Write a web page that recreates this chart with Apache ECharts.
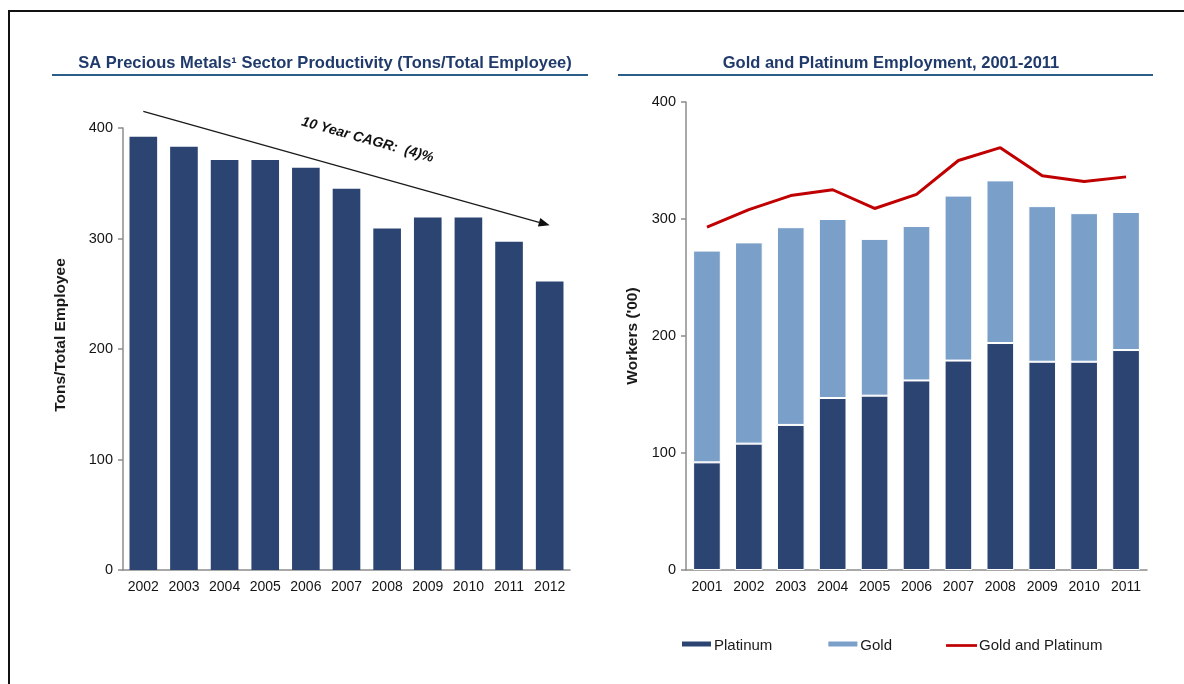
<!DOCTYPE html>
<html>
<head>
<meta charset="utf-8">
<script src="https://cdn.jsdelivr.net/npm/echarts@6/dist/echarts.min.js"></script>
<style>
  html, body { margin: 0; padding: 0; background: #fff; }
  #chart { width: 1184px; height: 684px; }
</style>
</head>
<body>
<div id="chart"></div>
<script>
// Productivity panel (tons per total employee)
const productivityYears = ['2002', '2003', '2004', '2005', '2006', '2007', '2008', '2009', '2010', '2011', '2012'];
const productivity = [392, 383, 371, 371, 364, 345, 309, 319, 319, 297, 261];

// Employment panel (workers, hundreds)
const employmentYears = ['2001', '2002', '2003', '2004', '2005', '2006', '2007', '2008', '2009', '2010', '2011'];
const platinum = [92, 108, 124, 147, 149, 162, 179, 194, 178, 178, 188];
const gold = [181, 172, 169, 153, 134, 132, 141, 139, 133, 127, 118];
const goldAndPlatinum = [293, 308, 320, 325, 309, 321, 350, 361, 337, 332, 336];

// Trend arrow endpoints, in productivity-axis units
const trendStart = ['2002', 415];
const trendEnd = ['2012', 312];
const trendLabel = '10 Year CAGR:  (4)%';

const FONT = '"Liberation Sans", Arial, sans-serif';
const NAVY = '#2b4472';
const LIGHT = '#7a9fc8';
const RED = '#c00000';
const TITLE_COLOR = '#1f3a6b';
const RULE_COLOR = '#2c5d88';

const axisLine = { show: true, lineStyle: { color: '#8c8c8c', width: 1.5 } };
const yTick = { show: true, length: 5, lineStyle: { color: '#8c8c8c', width: 1.5 } };
const yLabel = { fontFamily: FONT, fontSize: 14.5, color: '#141414', margin: 10 };
const xLabel = { fontFamily: FONT, fontSize: 14, color: '#141414', margin: 10, interval: 0, hideOverlap: false };
const nameStyle = { fontFamily: FONT, fontSize: 15.5, fontWeight: 'bold', color: '#1a1a1a' };
const titleStyle = { fontFamily: FONT, fontSize: 16.5, fontWeight: 'bold', color: TITLE_COLOR };
const barIcon = 'path://M0,0H31V7H0Z M0,8.5H31V10H0Z';
const lineIcon = 'path://M0,0H34V3H0Z';

const chart = echarts.init(document.getElementById('chart'), null, { renderer: 'canvas' });

chart.setOption({
  animation: false,
  backgroundColor: '#fff',
  title: [
    { text: 'SA Precious Metals\u00b9 Sector Productivity (Tons/Total Employee)',
      left: 320, top: 50, textAlign: 'center', textStyle: titleStyle },
    { text: 'Gold and Platinum Employment, 2001-2011',
      left: 886, top: 50, textAlign: 'center', textStyle: titleStyle }
  ],
  legend: {
    data: [
      { name: 'Platinum', icon: barIcon },
      { name: 'Gold', icon: barIcon },
      { name: 'Gold and Platinum', icon: lineIcon, itemStyle: { color: RED } }
    ],
    left: 675, top: 633,
    itemWidth: 31, itemHeight: 10, itemGap: 54,
    selectedMode: false,
    textStyle: { fontFamily: FONT, fontSize: 15, color: '#1a1a1a', padding: [0, 0, 0, -3] }
  },
  grid: [
    { left: 123, right: 614, top: 128, bottom: 114 },
    { left: 686, right: 37, top: 102, bottom: 114 }
  ],
  xAxis: [
    { type: 'category', gridIndex: 0, data: productivityYears,
      axisLine: axisLine, axisTick: { show: false }, axisLabel: xLabel },
    { type: 'category', gridIndex: 1, data: employmentYears,
      axisLine: axisLine, axisTick: { show: false }, axisLabel: xLabel }
  ],
  yAxis: [
    { type: 'value', gridIndex: 0, min: 0, max: 400, interval: 100,
      name: 'Tons/Total Employee', nameLocation: 'middle', nameGap: 54, nameRotate: 90,
      nameTextStyle: Object.assign({}, nameStyle, { padding: [0, 0, 0, 28] }),
      axisLine: axisLine, axisTick: yTick,
      axisLabel: yLabel, splitLine: { show: false } },
    { type: 'value', gridIndex: 1, min: 0, max: 400, interval: 100,
      name: "Workers ('00)", nameLocation: 'middle', nameGap: 45, nameRotate: 90,
      nameTextStyle: nameStyle, axisLine: axisLine, axisTick: yTick,
      axisLabel: yLabel, splitLine: { show: false } }
  ],
  series: [
    { name: 'Productivity', type: 'bar', xAxisIndex: 0, yAxisIndex: 0,
      data: productivity, barCategoryGap: '32%',
      itemStyle: { color: NAVY } },
    { name: 'Platinum', type: 'bar', xAxisIndex: 1, yAxisIndex: 1, stack: 'emp',
      data: platinum, barCategoryGap: '34%',
      itemStyle: { color: NAVY, borderColor: '#fff', borderWidth: 1 } },
    { name: 'Gold', type: 'bar', xAxisIndex: 1, yAxisIndex: 1, stack: 'emp',
      data: gold,
      itemStyle: { color: LIGHT, borderColor: '#fff', borderWidth: 1 } },
    { name: 'Gold and Platinum', type: 'line', xAxisIndex: 1, yAxisIndex: 1,
      data: goldAndPlatinum, symbol: 'none',
      lineStyle: { color: RED, width: 3 }, itemStyle: { color: RED } }
  ]
});

// Frame, title rules and the CAGR trend arrow (placed through the productivity axes)
const p1 = chart.convertToPixel({ xAxisIndex: 0, yAxisIndex: 0 }, trendStart);
const p2 = chart.convertToPixel({ xAxisIndex: 0, yAxisIndex: 0 }, trendEnd);
const dx = p2[0] - p1[0], dy = p2[1] - p1[1];
const len = Math.sqrt(dx * dx + dy * dy);
const ux = dx / len, uy = dy / len;
const head = 11, half = 4.5;
const base = [p2[0] - ux * head, p2[1] - uy * head];
const mid = [p1[0] + dx * 0.53, p1[1] + dy * 0.53];
const off = 33;
const labelPos = [mid[0] + uy * off, mid[1] - ux * off];

chart.setOption({
  graphic: [
    { type: 'polyline', shape: { points: [[9, 684], [9, 11], [1184, 11]] },
      style: { stroke: '#111', lineWidth: 2, fill: null }, silent: true },
    { type: 'line', shape: { x1: 52, y1: 75, x2: 588, y2: 75 },
      style: { stroke: RULE_COLOR, lineWidth: 2 }, silent: true },
    { type: 'line', shape: { x1: 618, y1: 75, x2: 1153, y2: 75 },
      style: { stroke: RULE_COLOR, lineWidth: 2 }, silent: true },
    { type: 'line', shape: { x1: p1[0], y1: p1[1], x2: base[0], y2: base[1] },
      style: { stroke: '#1a1a1a', lineWidth: 1.3 }, silent: true },
    { type: 'polygon',
      shape: { points: [
        [p2[0], p2[1]],
        [base[0] - uy * half, base[1] + ux * half],
        [base[0] + uy * half, base[1] - ux * half]
      ] },
      style: { fill: '#111' }, silent: true },
    { type: 'text', x: labelPos[0], y: labelPos[1], rotation: -Math.atan2(dy, dx),
      style: { text: trendLabel, align: 'center', verticalAlign: 'middle',
        font: 'italic bold 14px "Liberation Sans", Arial, sans-serif', fill: '#111' },
      silent: true }
  ]
});
</script>
</body>
</html>
